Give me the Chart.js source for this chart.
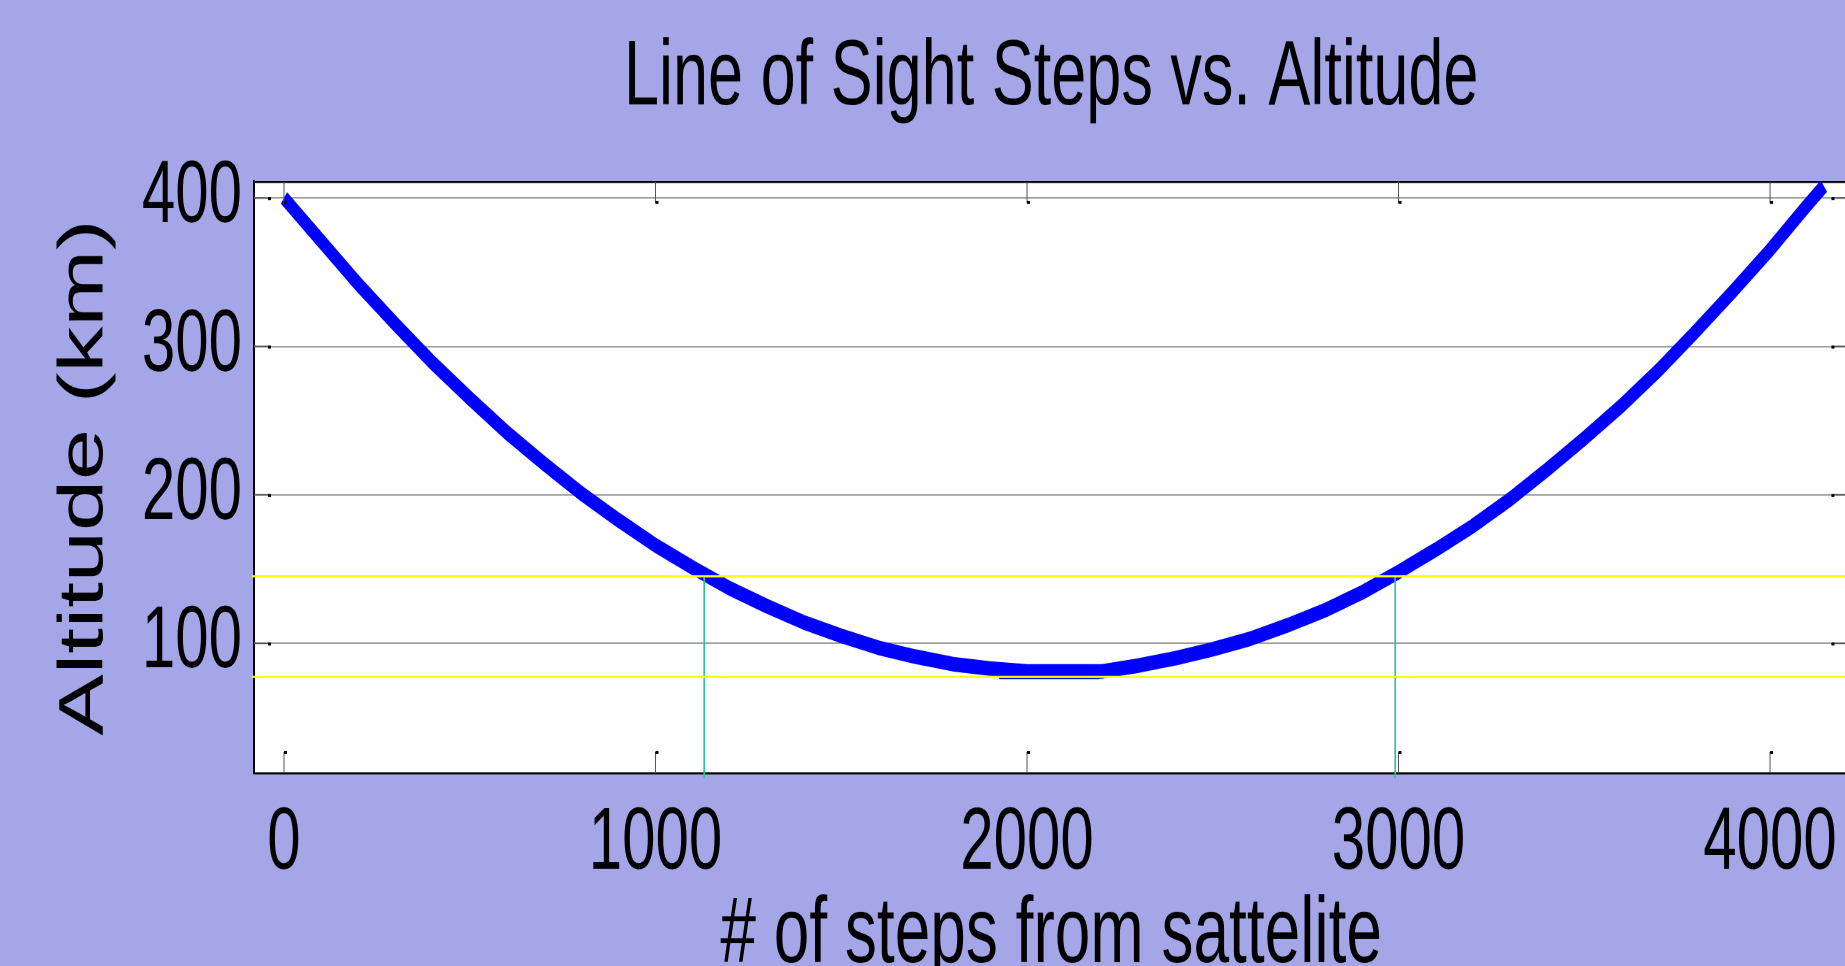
<!DOCTYPE html>
<html><head><meta charset="utf-8">
<script src="https://cdn.jsdelivr.net/npm/chart.js@4.4.1/dist/chart.umd.min.js"></script>
<style>
html,body{margin:0;padding:0;width:1845px;height:966px;overflow:hidden;background:#a5a6e8;}
#wrap{position:absolute;left:0;top:0;width:1856px;height:672px;transform:scaleY(1.46);transform-origin:0 0;}
</style></head><body>
<div id="wrap"><canvas id="c"></canvas></div>
<script>
// ---- data ----
const stepsFromSatellite = [0,100,200,300,400,500,600,700,800,900,1000,1100,1200,1300,1400,1500,1600,1700,1800,1900,2000,2100,2200,2300,2400,2500,2600,2700,2800,2900,3000,3100,3200,3300,3400,3500,3600,3700,3800,3900,4000,4100,4145];
const altitudeKm = [400,371,342,315,289,265,242,221,201,183,166,151,137,125,114,105,97,91,86,83,81,81,81,85,90,96,103,112,122,134,148,163,179,197,217,238,260,284,310,337,365,395,408];
const minSegmentSteps = [1925,2194];
const minSegmentAlt = [76.6,76.6];
const upperLimitAlt = 145.1;
const lowerLimitAlt = 77.3;
const limitLineSteps = [-86,4211];
const crossingSteps = [1131,2991];
const crossingAltRange = [145.1,9.25];
const xTickValues = [0,1000,2000,3000,4000];
const xTickLabels = ['0','1000','2000','3000','4000'];
const yTickValues = [100,200,300,400];
const yTickLabels = ['100','200','300','400'];

const pts = (xs, ys) => xs.map((x,i)=>({x, y: ys[i]}));
const FONT = '"Liberation Sans", Arial, sans-serif';

const plotBg = {
  id:'plotBg',
  beforeDraw(chart){
    const {ctx, chartArea:a} = chart;
    ctx.save(); ctx.fillStyle='#ffffff';
    ctx.fillRect(a.left, a.top, a.right-a.left, a.bottom-a.top);
    ctx.restore();
  }
};
const tickMarks = {
  id:'tickMarks',
  afterDraw(chart){
    const {ctx, chartArea:a, scales:{x,y}} = chart;
    const lx = 14.5, ly = 17;
    ctx.save();
    ctx.strokeStyle='#555555'; ctx.lineWidth=1; ctx.fillStyle='#000000';
    xTickValues.forEach(v=>{
      const px = x.getPixelForValue(v);
      ctx.beginPath();
      ctx.moveTo(px, a.bottom); ctx.lineTo(px, a.bottom-lx);
      ctx.moveTo(px, a.top); ctx.lineTo(px, a.top+lx);
      ctx.stroke();
      ctx.fillRect(px, a.bottom-lx-0.5, 3, 2);
      ctx.fillRect(px, a.top+lx-1.5, 3, 2);
    });
    yTickValues.forEach(v=>{
      const py = y.getPixelForValue(v);
      ctx.beginPath();
      ctx.moveTo(a.left, py); ctx.lineTo(a.left+ly, py);
      ctx.moveTo(a.right, py); ctx.lineTo(a.right-ly, py);
      ctx.stroke();
      ctx.fillRect(a.left+ly-3, py-0.5, 3, 2);
      ctx.fillRect(a.right-ly, py-0.5, 3, 2);
    });
    ctx.restore();
  }
};

new Chart(document.getElementById('c'), {
  type:'scatter',
  data:{ datasets:[
    {label:'upper limit', data: pts(limitLineSteps,[upperLimitAlt,upperLimitAlt]), showLine:true, borderColor:'#ffff00', borderWidth:1.5, pointRadius:0, clip:false},
    {label:'lower limit', data: pts(limitLineSteps,[lowerLimitAlt,lowerLimitAlt]), showLine:true, borderColor:'#ffff00', borderWidth:1.5, pointRadius:0, clip:false},
    {label:'crossing 1', data: pts([crossingSteps[0],crossingSteps[0]], crossingAltRange), showLine:true, borderColor:'#1ec99b', borderWidth:1.6, pointRadius:0, clip:false},
    {label:'crossing 2', data: pts([crossingSteps[1],crossingSteps[1]], crossingAltRange), showLine:true, borderColor:'#1ec99b', borderWidth:1.6, pointRadius:0, clip:false},
    {label:'minimum', data: pts(minSegmentSteps, minSegmentAlt), showLine:true, borderColor:'#0000ff', borderWidth:1.5, pointRadius:0},
    {label:'Altitude', data: pts(stepsFromSatellite, altitudeKm), showLine:true, borderColor:'#0000ff', borderWidth:10, pointRadius:0, tension:0, borderJoinStyle:'round', borderCapStyle:'butt'}
  ]},
  options:{
    responsive:true, maintainAspectRatio:false, animation:false, devicePixelRatio:2,
    layout:{padding:{top:0, left:0, right:0, bottom:16.35}},
    plugins:{
      legend:{display:false}, tooltip:{enabled:false},
      title:{display:true, fullSize:false, text:'Line of Sight Steps vs. Altitude', color:'#000',
        font:{family:FONT, size:63, weight:'normal', lineHeight:1.2}, padding:{top:16.5, bottom:32.5}}
    },
    scales:{
      x:{type:'linear', position:'bottom', min:-80.7, max:4211,
        afterBuildTicks: s => { s.ticks = xTickValues.map(v=>({value:v})); },
        ticks:{color:'#000', font:{family:FONT, size:60, lineHeight:1.0}, padding:18.85, maxRotation:0, autoSkip:false,
          callback:(v,i)=>xTickLabels[i]},
        grid:{display:false, drawTicks:false},
        border:{display:true, color:'#000', width:1.4},
        title:{display:true, text:'# of steps from sattelite', color:'#000',
          font:{family:FONT, size:64, lineHeight:0.445}, padding:{top:0, bottom:0}}
      },
      xTop:{type:'linear', position:'top', min:-80.7, max:4211,
        ticks:{display:false}, grid:{display:false, drawTicks:false},
        border:{display:true, color:'#000', width:1.4}
      },
      y:{type:'linear', position:'left', min:12.6, max:410.8,
        afterBuildTicks: s => { s.ticks = yTickValues.map(v=>({value:v})); },
        ticks:{color:'#000', font:{family:FONT, size:60, lineHeight:1.2}, padding:12,
          callback:(v,i)=>yTickLabels[i]},
        grid:{display:true, color:'#9c9c9c', lineWidth:1, drawTicks:false},
        border:{display:true, color:'#000', width:2},
        title:{display:true, text:'Altitude (km)', color:'#000',
          font:{family:FONT, size:63, lineHeight:1.2}, padding:{top:47.1, bottom:7.2}}
      }
    }
  },
  plugins:[plotBg, tickMarks]
});
</script>
</body></html>
